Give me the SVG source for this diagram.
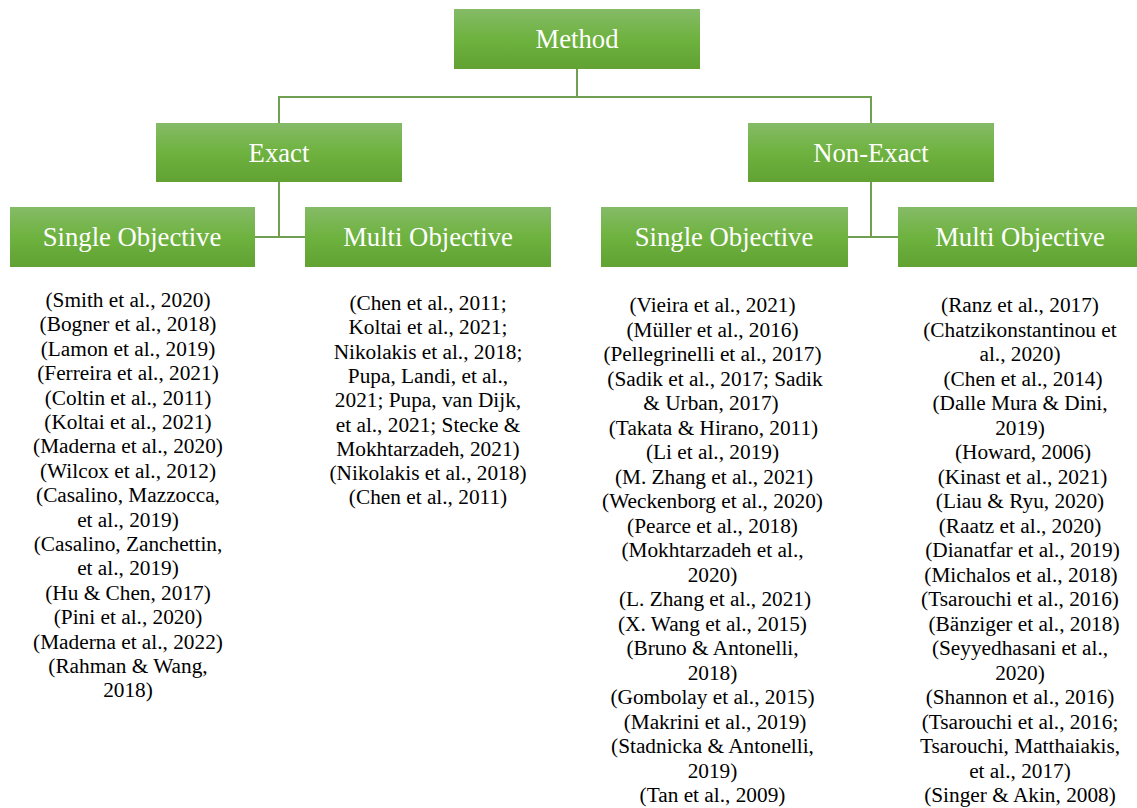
<svg xmlns="http://www.w3.org/2000/svg" width="1137" height="808" viewBox="0 0 1137 808">
  <defs>
    <linearGradient id="boxFill" x1="0" y1="0" x2="0" y2="1">
      <stop offset="0" stop-color="#85bb67"/>
      <stop offset="0.5" stop-color="#6eb23f"/>
      <stop offset="1" stop-color="#61a233"/>
    </linearGradient>
    <style>
      .box { fill: url(#boxFill); }
      .lbl { font-size: 26.7px; fill: #ffffff; text-anchor: middle; }
      .ref { font-size: 21.3px; fill: #000000; text-anchor: middle; }
      .link { fill: none; stroke: #6f9f50; stroke-width: 2; }
    </style>
  </defs>
  <rect width="1137" height="808" fill="#ffffff"/>

  <!-- tree connectors -->
  <g id="connectors">
    <path class="link" d="M577 69 V97"/>
    <path class="link" d="M279 123 V97 H871 V123"/>
    <path class="link" d="M279 182 V237 M255 237 H305"/>
    <path class="link" d="M871 182 V237 M848 237 H898"/>
  </g>

  <g font-family="Liberation Serif, Tinos, Times New Roman, DejaVu Serif, serif">
  <g id="method">
    <rect class="box" x="454" y="9" width="246" height="60"/>
    <text class="lbl" x="577" y="48">Method</text>
  </g>
  <g id="exact">
    <rect class="box" x="156" y="123" width="246" height="59"/>
    <text class="lbl" x="279" y="162">Exact</text>
  </g>
  <g id="non-exact">
    <rect class="box" x="748" y="123" width="246" height="59"/>
    <text class="lbl" x="871" y="162">Non-Exact</text>
  </g>
  <g id="exact-single">
    <rect class="box" x="10" y="207" width="245" height="60"/>
    <text class="lbl" x="132" y="246">Single Objective</text>
  </g>
  <g id="exact-multi">
    <rect class="box" x="305" y="207" width="246" height="60"/>
    <text class="lbl" x="428" y="246">Multi Objective</text>
  </g>
  <g id="nonexact-single">
    <rect class="box" x="601" y="207" width="247" height="60"/>
    <text class="lbl" x="724" y="246">Single Objective</text>
  </g>
  <g id="nonexact-multi">
    <rect class="box" x="898" y="207" width="246" height="60"/>
    <text class="lbl" x="1020" y="246">Multi Objective</text>
  </g>

  <!-- reference lists -->
  <g id="refs-exact-single" class="ref">
    <text x="128" y="307">(Smith et al., 2020)</text>
    <text x="128" y="331.4">(Bogner et al., 2018)</text>
    <text x="128" y="355.8">(Lamon et al., 2019)</text>
    <text x="128" y="380.2">(Ferreira et al., 2021)</text>
    <text x="128" y="404.6">(Coltin et al., 2011)</text>
    <text x="128" y="429">(Koltai et al., 2021)</text>
    <text x="128" y="453.4">(Maderna et al., 2020)</text>
    <text x="128" y="477.8">(Wilcox et al., 2012)</text>
    <text x="128" y="502.2">(Casalino, Mazzocca,</text>
    <text x="128" y="526.6">et al., 2019)</text>
    <text x="128" y="551">(Casalino, Zanchettin,</text>
    <text x="128" y="575.4">et al., 2019)</text>
    <text x="128" y="599.8">(Hu &amp; Chen, 2017)</text>
    <text x="128" y="624.2">(Pini et al., 2020)</text>
    <text x="128" y="648.6">(Maderna et al., 2022)</text>
    <text x="128" y="673">(Rahman &amp; Wang,</text>
    <text x="128" y="697.4">2018)</text>
  </g>

  <g id="refs-exact-multi" class="ref">
    <text x="428" y="310">(Chen et al., 2011;</text>
    <text x="428" y="334.3">Koltai et al., 2021;</text>
    <text x="428" y="358.6">Nikolakis et al., 2018;</text>
    <text x="428" y="382.9">Pupa, Landi, et al.,</text>
    <text x="428" y="407.2">2021; Pupa, van Dijk,</text>
    <text x="428" y="431.5">et al., 2021; Stecke &amp;</text>
    <text x="428" y="455.8">Mokhtarzadeh, 2021)</text>
    <text x="428" y="480.1">(Nikolakis et al., 2018)</text>
    <text x="428" y="504.4">(Chen et al., 2011)</text>
  </g>

  <g id="refs-nonexact-single" class="ref">
    <text x="712.5" y="312">(Vieira et al., 2021)</text>
    <text x="712.5" y="336.5">(Müller et al., 2016)</text>
    <text x="712.5" y="361">(Pellegrinelli et al., 2017)</text>
    <text x="715" y="385.5">(Sadik et al., 2017; Sadik</text>
    <text x="711" y="410">&amp; Urban, 2017)</text>
    <text x="713.5" y="434.5">(Takata &amp; Hirano, 2011)</text>
    <text x="712.5" y="459">(Li et al., 2019)</text>
    <text x="714" y="483.5">(M. Zhang et al., 2021)</text>
    <text x="712.5" y="508">(Weckenborg et al., 2020)</text>
    <text x="712.5" y="532.5">(Pearce et al., 2018)</text>
    <text x="712.5" y="557">(Mokhtarzadeh et al.,</text>
    <text x="712.5" y="581.5">2020)</text>
    <text x="715" y="606">(L. Zhang et al., 2021)</text>
    <text x="712.5" y="630.5">(X. Wang et al., 2015)</text>
    <text x="712.5" y="655">(Bruno &amp; Antonelli,</text>
    <text x="712.5" y="679.5">2018)</text>
    <text x="712.5" y="704">(Gombolay et al., 2015)</text>
    <text x="715" y="728.5">(Makrini et al., 2019)</text>
    <text x="712.5" y="753">(Stadnicka &amp; Antonelli,</text>
    <text x="712.5" y="777.5">2019)</text>
    <text x="712.5" y="802">(Tan et al., 2009)</text>
  </g>

  <g id="refs-nonexact-multi" class="ref">
    <text x="1020" y="312">(Ranz et al., 2017)</text>
    <text x="1020" y="336.5">(Chatzikonstantinou et</text>
    <text x="1020" y="361">al., 2020)</text>
    <text x="1023" y="385.5">(Chen et al., 2014)</text>
    <text x="1020" y="410">(Dalle Mura &amp; Dini,</text>
    <text x="1020" y="434.5">2019)</text>
    <text x="1023" y="459">(Howard, 2006)</text>
    <text x="1022.5" y="483.5">(Kinast et al., 2021)</text>
    <text x="1020" y="508">(Liau &amp; Ryu, 2020)</text>
    <text x="1020" y="532.5">(Raatz et al., 2020)</text>
    <text x="1022.5" y="557">(Dianatfar et al., 2019)</text>
    <text x="1021" y="581.5">(Michalos et al., 2018)</text>
    <text x="1020" y="606">(Tsarouchi et al., 2016)</text>
    <text x="1024" y="630.5">(Bänziger et al., 2018)</text>
    <text x="1020" y="655">(Seyyedhasani et al.,</text>
    <text x="1020" y="679.5">2020)</text>
    <text x="1020" y="704">(Shannon et al., 2016)</text>
    <text x="1020" y="728.5">(Tsarouchi et al., 2016;</text>
    <text x="1020" y="753">Tsarouchi, Matthaiakis,</text>
    <text x="1020" y="777.5">et al., 2017)</text>
    <text x="1020" y="802">(Singer &amp; Akin, 2008)</text>
  </g>
  </g>
</svg>
